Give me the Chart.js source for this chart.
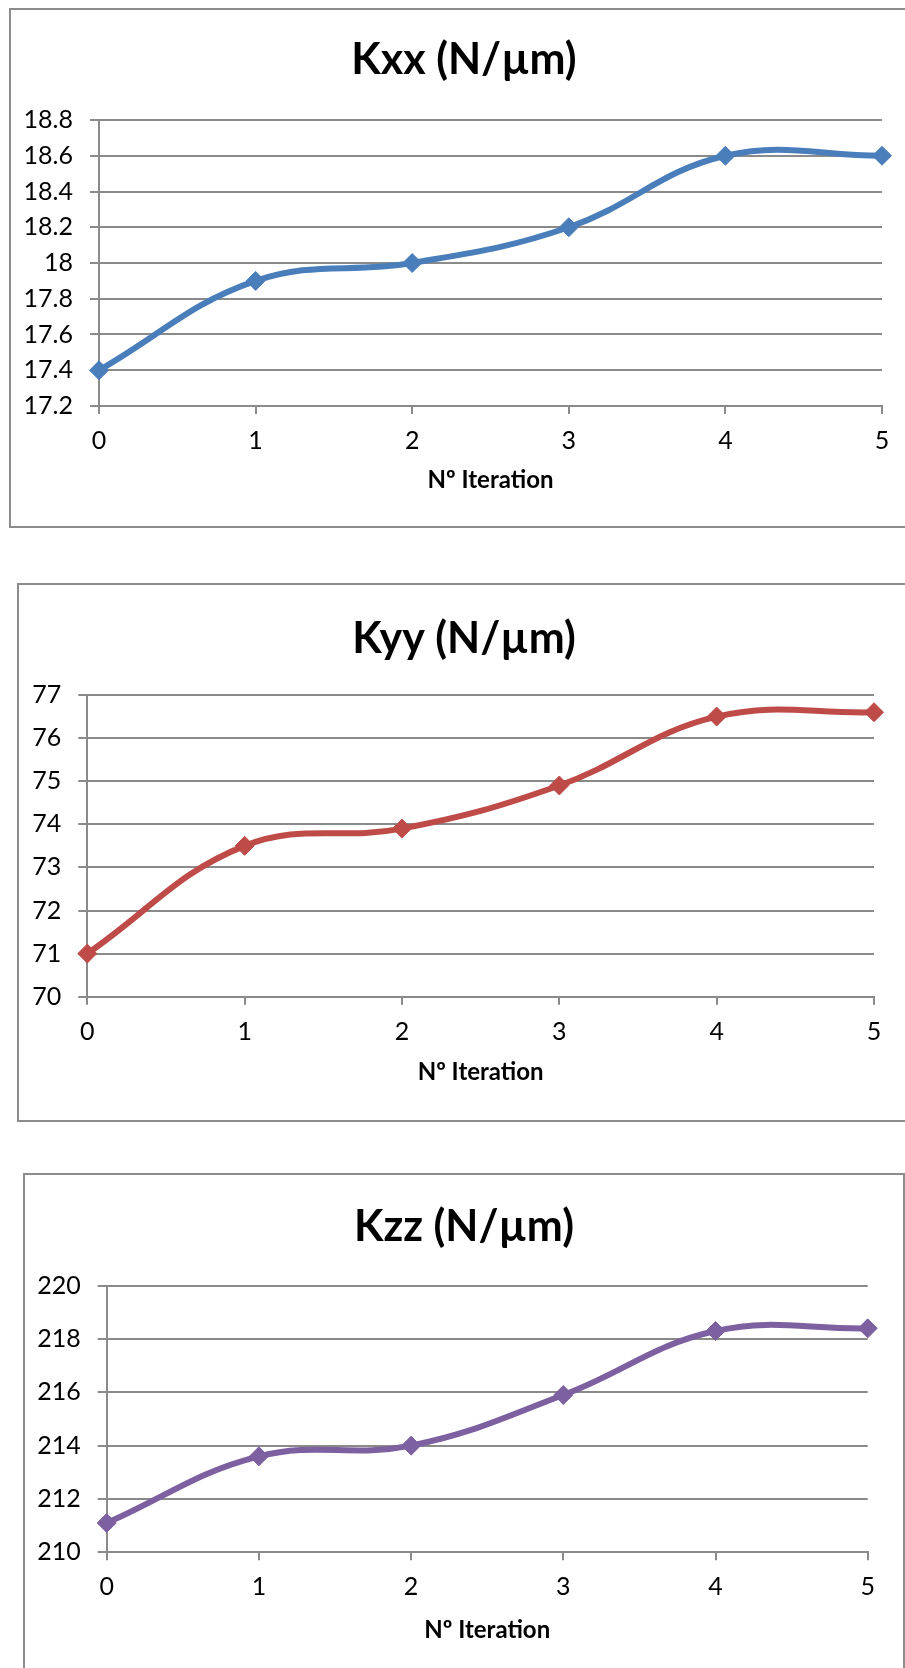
<!DOCTYPE html>
<html>
<head>
<meta charset="utf-8">
<script src="https://cdn.jsdelivr.net/npm/chart.js@4/dist/chart.umd.min.js"></script>
<style>
  body { margin: 0; background: #fff; overflow: hidden; width: 905px; height: 1668px; position: relative; }
  .box { position: absolute; border: 2px solid #8c8c8c; background: #fff; }
  .box canvas { display: block; }
</style>
</head>
<body>
<div class="box" id="box-kxx"><canvas id="kxx"></canvas></div>
<div class="box" id="box-kyy"><canvas id="kyy"></canvas></div>
<div class="box" id="box-kzz"><canvas id="kzz"></canvas></div>
<script>
// stiffness per iteration
const iterations = ['0', '1', '2', '3', '4', '5'];
const kxxValues = [17.4, 17.9, 18.0, 18.2, 18.6, 18.6];
const kyyValues = [71.0, 73.5, 73.9, 74.9, 76.5, 76.6];
const kzzValues = [211.1, 213.6, 214.0, 215.9, 218.3, 218.4];

const kxxTicks = [17.2, 17.4, 17.6, 17.8, 18, 18.2, 18.4, 18.6, 18.8];
const kyyTicks = [70, 71, 72, 73, 74, 75, 76, 77];
const kzzTicks = [210, 212, 214, 216, 218, 220];

const xAxisTitle = 'Nº Iteration';

const FONT = 'Lato, "Open Sans", sans-serif';
const GRID = '#8a8a8a';

// page geometry of each chart frame (box = outer border, plot = chart area)
const frames = {
  kxx: { left: 9, top: 8, width: 906, height: 516, plotLeft: 99, plotTop: 120, plotRight: 882, plotBottom: 406, titleY: 60.6, axisTitleY: 480.7 },
  kyy: { left: 17, top: 583, width: 890, height: 535, plotLeft: 87.3, plotTop: 695, plotRight: 874, plotBottom: 996.7, titleY: 639, axisTitleY: 1072 },
  kzz: { left: 23, top: 1173, width: 878, height: 520, plotLeft: 106.7, plotTop: 1285.7, plotRight: 867.7, plotBottom: 1552.3, titleY: 1227, axisTitleY: 1630 }
};

const titleSize = 43, tickSize = 25, axisTitleSize = 24;

function makeChart(id, title, values, ticks, color) {
  const f = frames[id];
  const box = document.getElementById('box-' + id);
  box.style.left = f.left + 'px';
  box.style.top = f.top + 'px';
  box.style.width = f.width + 'px';
  box.style.height = f.height + 'px';

  const canvas = document.getElementById(id);
  canvas.width = f.width;
  canvas.height = f.height;

  // canvas origin sits inside the 2px border
  const cx = f.left + 2, cy = f.top + 2;
  const titleLine = titleSize * 1.2;
  const titleTop = f.titleY - cy - titleLine / 2;
  const titleBottom = (f.plotTop - cy) - titleTop - titleLine;
  const yWidth = f.plotLeft - cx;
  // empty right-hand scale reserves the gap after the last category,
  // so the title stays centred on the whole frame
  const rightGap = f.width - (f.plotRight - cx);
  const axisLine = axisTitleSize * 1.2;
  const xHeight = f.axisTitleY + axisLine / 2 - f.plotBottom;
  const bottomPad = f.height - (f.plotBottom - cy) - xHeight;
  const tickLine = tickSize * 1.2;

  return new Chart(canvas, {
    type: 'line',
    data: {
      labels: iterations,
      datasets: [{
        data: values,
        borderColor: color,
        backgroundColor: color,
        borderWidth: 6,
        tension: 0.4,
        pointStyle: 'rectRot',
        pointRadius: 9.5,
        pointBorderWidth: 1,
        pointBorderColor: color,
        pointBackgroundColor: color,
        clip: false
      }]
    },
    options: {
      responsive: false,
      animation: false,
      layout: { padding: { left: 0, top: 0, right: 0, bottom: bottomPad } },
      plugins: {
        legend: { display: false },
        tooltip: { enabled: false },
        title: {
          display: true,
          text: title,
          color: '#000',
          font: { family: FONT, size: titleSize, weight: 'bold', lineHeight: 1.2 },
          padding: { top: titleTop, bottom: titleBottom }
        }
      },
      scales: {
        x: {
          offset: false,
          grid: { drawOnChartArea: false, drawTicks: true, tickLength: 8, color: GRID, lineWidth: 2 },
          border: { display: true, color: GRID, width: 2 },
          // label centres sit 35px under the axis
          ticks: { color: '#000', padding: 35 - 8 - tickLine / 2, maxRotation: 0, font: { family: FONT, size: tickSize, lineHeight: 1.2 } },
          title: {
            display: true,
            text: xAxisTitle,
            color: '#000',
            padding: 0,
            font: { family: FONT, size: axisTitleSize, weight: 'bold', lineHeight: 1.2 }
          },
          afterFit(scale) {
            scale.height = xHeight;
            scale.paddingLeft = 0;
            scale.paddingRight = 0;
          }
        },
        y: {
          min: ticks[0],
          max: ticks[ticks.length - 1],
          grid: { drawTicks: true, tickLength: 9, color: GRID, lineWidth: 2 },
          border: { display: true, color: GRID, width: 2 },
          ticks: {
            color: '#000',
            padding: 17,
            font: { family: FONT, size: tickSize, lineHeight: 1.2 },
            callback: value => String(value)
          },
          afterBuildTicks(scale) {
            scale.ticks = ticks.map(v => ({ value: v }));
          },
          afterFit(scale) {
            scale.width = yWidth;
            scale.paddingTop = 0;
            scale.paddingBottom = 0;
          }
        },
        gap: {
          position: 'right',
          grid: { display: false },
          border: { display: false },
          ticks: { display: false },
          afterFit(scale) {
            scale.width = rightGap;
          }
        }
      }
    }
  });
}

makeChart('kxx', 'Kxx (N/µm)', kxxValues, kxxTicks, '#4A7EBB');
makeChart('kyy', 'Kyy (N/µm)', kyyValues, kyyTicks, '#BE4B48');
makeChart('kzz', 'Kzz (N/µm)', kzzValues, kzzTicks, '#7D60A0');
</script>
</body>
</html>
